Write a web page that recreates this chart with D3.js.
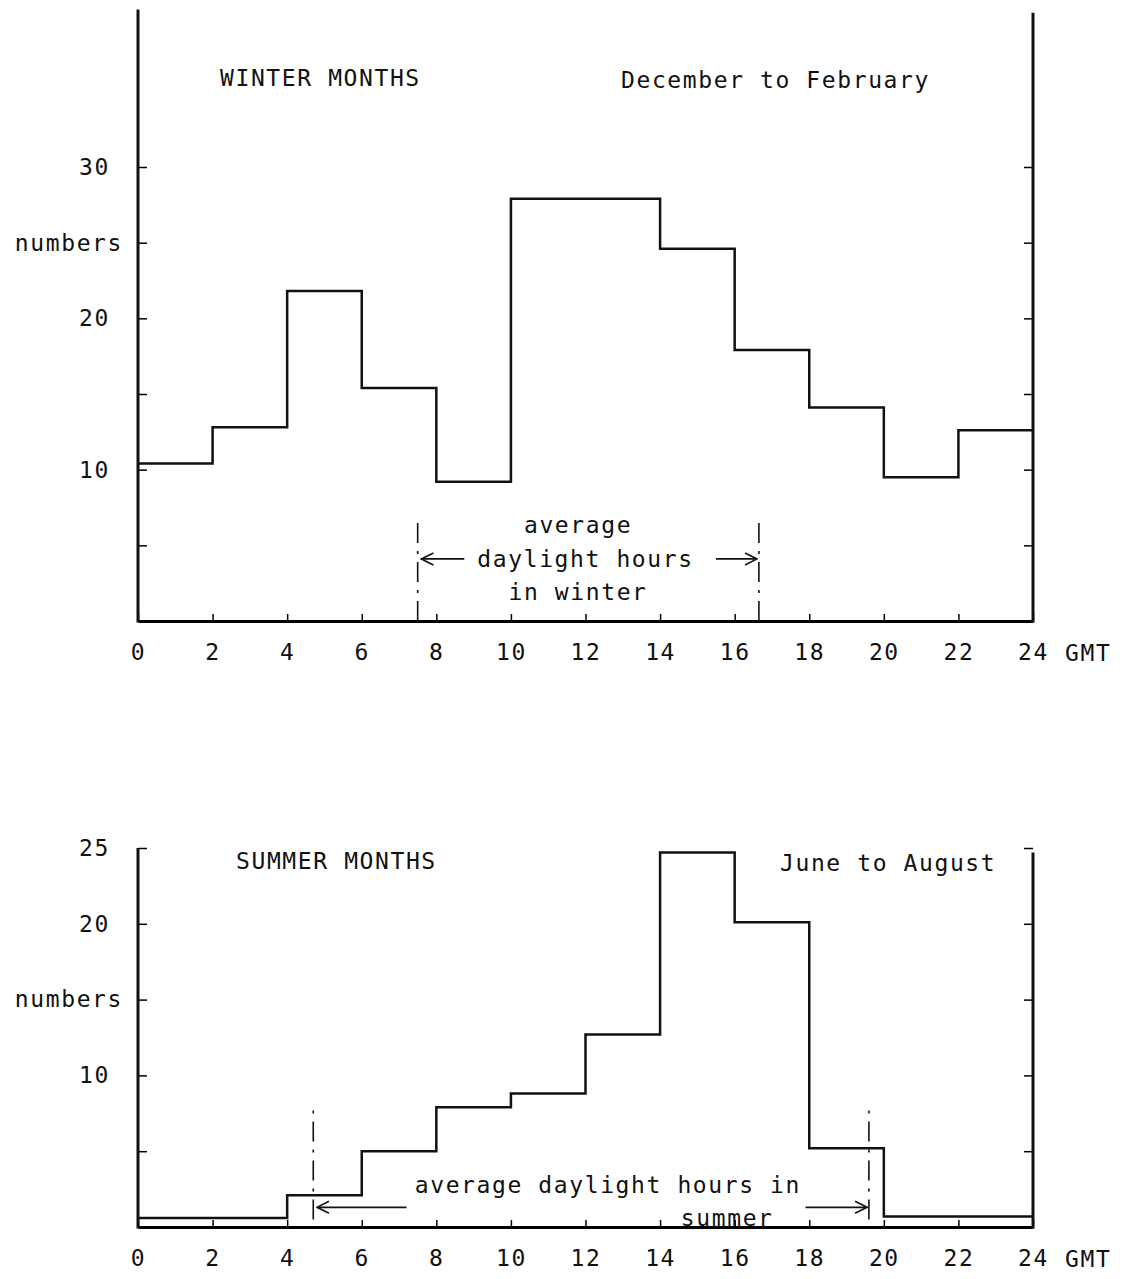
<!DOCTYPE html>
<html>
<head>
<meta charset="utf-8">
<script src="https://cdn.jsdelivr.net/npm/d3@7"></script>
<style>
body { margin:0; background:#fff; }
text { font-family:'DejaVu Sans Mono', monospace; font-size:23px; fill:#111; letter-spacing:1.6px; }
</style>
</head>
<body>
<svg id="chart" width="1124" height="1279"></svg>
<script>
// two hour bins, GMT
var hours = [0, 2, 4, 6, 8, 10, 12, 14, 16, 18, 20, 22]
var winterCounts = [10.4, 12.8, 21.8, 15.4, 9.2, 27.9, 27.9, 24.6, 17.9, 14.1, 9.5, 12.6]
var summerCounts = [0.6, 0.6, 2.1, 5.0, 7.9, 8.8, 12.7, 24.7, 20.1, 5.2, 0.7, 0.7]

var xTicks = [0, 2, 4, 6, 8, 10, 12, 14, 16, 18, 20, 22, 24]
var winterYTicks = [5, 10, 15, 20, 25, 30]
var winterYLabels = ['', '10', '', '20', 'numbers', '30']
var summerYTicks = [5, 10, 15, 20, 25]
var summerYLabels = ['', '10', 'numbers', '20', '25']

var winterDaylight = [7.5, 16.65]
var summerDaylight = [4.7, 19.6]

var svg = d3.select('#chart')

svg.append('defs').append('marker')
    .attr('id', 'head')
    .attr('markerUnits', 'userSpaceOnUse')
    .attr('viewBox', '-1 -7 14 14')
    .attr('refX', 12).attr('refY', 0)
    .attr('markerWidth', 14).attr('markerHeight', 14)
    .attr('orient', 'auto')
  .append('path')
    .attr('d', 'M0,-6L12,0L0,6')
    .attr('fill', 'none')
    .attr('stroke', '#111')
    .attr('stroke-width', 1.6)

function panel(opt)
{
    var x = d3.scaleLinear().domain([0, 24]).range([138, 1033])
    var y = d3.scaleLinear().domain(opt.yDomain).range(opt.yRange)
    var g = svg.append('g')

    // bottom axis
    var xa = g.append('g')
        .attr('transform', 'translate(0,' + y(0) + ')')
        .call(d3.axisBottom(x).tickValues(xTicks).tickSize(-7).tickSizeOuter(0).tickPadding(23))
    xa.select('.domain').attr('stroke-width', 3)
    xa.selectAll('.tick line').attr('stroke-width', 1.5)
    xa.attr('font-family', null).attr('font-size', null)

    g.append('text')
        .attr('x', x(24) + 32).attr('y', y(0) + 32)
        .attr('dominant-baseline', 'central')
        .text('GMT')

    // left axis
    var ya = g.append('g')
        .attr('transform', 'translate(' + x(0) + ',0)')
        .call(d3.axisLeft(y).tickValues(opt.yTicks).tickSize(-9).tickPadding(28)
            .tickFormat((d, i)=> opt.yLabels[i]))
    ya.select('.domain').remove()
    ya.selectAll('.tick line').attr('stroke-width', 1.5)
    ya.selectAll('text').filter(t=> opt.yLabels[opt.yTicks.indexOf(t)] == 'numbers').attr('x', -15)
    ya.attr('font-family', null).attr('font-size', null)
    g.append('line')
        .attr('x1', x(0)).attr('x2', x(0))
        .attr('y1', y(0) + 1.5).attr('y2', y(opt.leftTop))
        .attr('stroke', '#111').attr('stroke-width', 3)

    // right axis
    var ra = g.append('g')
        .attr('transform', 'translate(' + x(24) + ',0)')
        .call(d3.axisRight(y).tickValues(opt.yTicks).tickSize(-9).tickFormat(''))
    ra.select('.domain').remove()
    ra.selectAll('.tick line').attr('stroke-width', 1.5)
    g.append('line')
        .attr('x1', x(24)).attr('x2', x(24))
        .attr('y1', y(0) + 1.5).attr('y2', y(opt.rightTop))
        .attr('stroke', '#111').attr('stroke-width', 3)

    // step histogram
    var pts = hours.map((h, i)=> [h, opt.counts[i]])
    pts.push([24, opt.counts[opt.counts.length - 1]])
    g.append('path')
        .datum(pts)
        .attr('fill', 'none')
        .attr('stroke', '#111')
        .attr('stroke-width', 2.5)
        .attr('d', d3.line().x(d=> x(d[0])).y(d=> y(d[1])).curve(d3.curveStepAfter))

    // titles
    g.append('text').attr('x', opt.titleX).attr('y', opt.titleY)
        .attr('dominant-baseline', 'central').text(opt.title)
    g.append('text').attr('x', opt.subX).attr('y', opt.titleY + 2)
        .attr('dominant-baseline', 'central').text(opt.sub)

    // daylight markers
    opt.daylight.forEach(h=> {
        g.append('line')
            .attr('x1', x(h)).attr('x2', x(h))
            .attr('y1', y(opt.dayLine[0])).attr('y2', y(opt.dayLine[1]))
            .attr('stroke', '#111').attr('stroke-width', 1.6)
            .attr('stroke-dasharray', '20,8,3,8')
    })
    opt.arrows.forEach(a=> {
        g.append('line')
            .attr('x1', x(a[0])).attr('x2', x(a[1]))
            .attr('y1', y(opt.arrowY)).attr('y2', y(opt.arrowY))
            .attr('stroke', '#111').attr('stroke-width', 1.8)
            .attr('marker-end', 'url(#head)')
    })
    opt.notes.forEach(n=> {
        g.append('text')
            .attr('x', x(n[0])).attr('y', y(n[1]))
            .attr('text-anchor', 'middle')
            .attr('dominant-baseline', 'central')
            .text(n[2])
    })
}

panel({
    counts: winterCounts,
    yDomain: [0, 30], yRange: [621, 167],
    leftTop: 40.4, rightTop: 40.2,
    yTicks: winterYTicks, yLabels: winterYLabels,
    title: 'WINTER MONTHS', sub: 'December to February',
    titleX: 220, subX: 621, titleY: 78,
    daylight: winterDaylight, dayLine: [0, 6.8],
    arrowY: 4.1,
    arrows: [[8.75, winterDaylight[0] + 0.1], [15.5, winterDaylight[1] - 0.05]],
    notes: [[11.8, 6.35, 'average'], [12.0, 4.1, 'daylight hours'], [11.8, 1.9, 'in winter']]
})

panel({
    counts: summerCounts,
    yDomain: [0, 25], yRange: [1227, 848],
    leftTop: 25, rightTop: 24.7,
    yTicks: summerYTicks, yLabels: summerYLabels,
    title: 'SUMMER MONTHS', sub: 'June to August',
    titleX: 236, subX: 780, titleY: 861,
    daylight: summerDaylight, dayLine: [0.5, 8.0],
    arrowY: 1.3,
    arrows: [[7.2, summerDaylight[0] + 0.1], [17.9, summerDaylight[1] - 0.05]],
    notes: [[12.6, 2.8, 'average daylight hours in'], [15.8, 0.6, 'summer']]
})
</script>
</body>
</html>
